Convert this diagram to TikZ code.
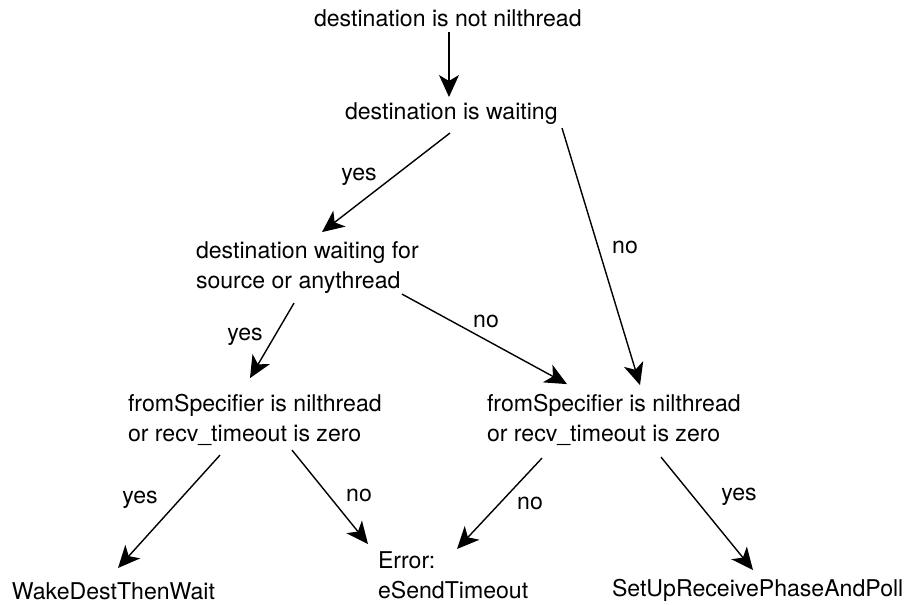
\documentclass[tikz,border=0pt]{standalone}
\usepackage{fontspec}
\setmainfont{TeX Gyre Heros}
\usetikzlibrary{arrows.meta}
\tikzset{
  txt/.style={inner sep=0pt, outer sep=0pt, anchor=north west, align=left,
    font=\fontsize{23.1}{30}\selectfont},
  lbl/.style={inner sep=0pt, outer sep=0pt, anchor=center,
    font=\fontsize{23.1}{30}\selectfont},
  arr/.style={line width=1.4pt, -{Stealth[length=22pt,width=20pt,inset=6pt]}}
}
\begin{document}
\begin{tikzpicture}[x=1pt,y=-1pt]
\useasboundingbox[fill=white] (0,0) rectangle (905,605);
\node[txt] (n1) at (314,9.6) {destination is not nilthread};
\node[txt] (n2) at (345,103) {destination is waiting};
\node[txt] (n3) at (196,241.1) {destination waiting for\\source or anythread};
\node[txt] (n4) at (128,394.1) {fromSpecifier is nilthread\\or recv\_timeout is zero};
\node[txt] (n5) at (487,394.1) {fromSpecifier is nilthread\\or recv\_timeout is zero};
\node[txt] (n6) at (12,582.6) {WakeDestThenWait};
\node[txt] (n7) at (378,551.6) {Error:\\eSendTimeout};
\node[txt] (n8) at (612,579.6) {SetUpReceivePhaseAndPoll};

\draw[arr] ([shift={(135,22.4)}]n1.north west) -- ([shift={(104,-6)}]n2.north west);
\draw[arr] ([shift={(105,30)}]n2.north west) -- ([shift={(126,-9)}]n3.north west);
\draw[arr] ([shift={(217,25)}]n2.north west) -- ([shift={(153,-9)}]n5.north west);
\draw[arr] ([shift={(98,62)}]n3.north west) -- ([shift={(122,-16)}]n4.north west);
\draw[arr] ([shift={(206,53)}]n3.north west) -- ([shift={(80,-10)}]n5.north west);
\draw[arr] ([shift={(92,61)}]n4.north west) -- ([shift={(106,-14.6)}]n6.north west);
\draw[arr] ([shift={(164,56)}]n4.north west) -- ([shift={(-10,-7.6)}]n7.north west);
\draw[arr] ([shift={(55,64)}]n5.north west) -- ([shift={(79,-2.6)}]n7.north west);
\draw[arr] ([shift={(174,63)}]n5.north west) -- ([shift={(141,-9.6)}]n8.north west);

\node[lbl] (l1) at (359,176.5) {yes};
\node[lbl] (l2) at (625,247) {no};
\node[lbl] (l3) at (245,336.5) {yes};
\node[lbl] (l4) at (486,321.5) {no};
\node[lbl] (l5) at (140,499.5) {yes};
\node[lbl] (l6) at (359,495.5) {no};
\node[lbl] (l7) at (530,503.5) {no};
\node[lbl] (l8) at (739,496.5) {yes};
\end{tikzpicture}
\end{document}
